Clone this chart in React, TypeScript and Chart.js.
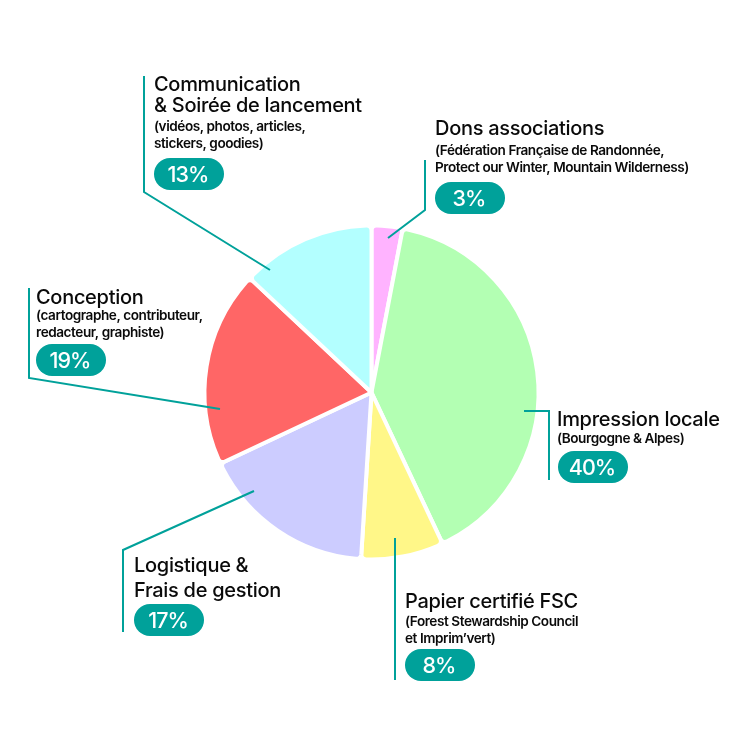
import React, { useEffect, useRef } from 'react';
import { Chart, registerables } from 'chart.js';

Chart.register(...registerables);

const categories = ['Dons associations', 'Impression locale', 'Papier certifié FSC', 'Logistique & Frais de gestion', 'Conception', 'Communication & Soirée de lancement'];
const values = [3, 40, 8, 17, 19, 13];
const sliceColors = ['#FFB3FF', '#B3FFB3', '#FFF788', '#CCCCFF', '#FF6666', '#B3FFFF'];

const titleLines = [
   ['Dons associations'],
   ['Impression locale'],
   ['Papier certifié FSC'],
   ['Logistique &', 'Frais de gestion'],
   ['Conception'],
   ['Communication', '& Soirée de lancement'],
];
const detailLines = [
   ['(Fédération Française de Randonnée,', 'Protect our Winter, Mountain Wilderness)'],
   ['(Bourgogne & Alpes)'],
   ['(Forest Stewardship Council', 'et Imprim’vert)'],
   [],
   ['(cartographe, contributeur,', 'redacteur, graphiste)'],
   ['(vidéos, photos, articles,', 'stickers, goodies)'],
];

// label placement, one entry per slice: text left edge, first title baseline, line gap, first detail baseline, pill top
const labelX = [435, 557, 405, 134, 36, 154];
const titleY = [135, 426, 608, 572, 304, 91];
const titleGap = [21, 21, 21, 24.5, 21, 21];
const detailY = [155, 443, 626, 0, 320, 131];
const pillY = [182, 451, 649, 604, 344, 158];

// leader lines
const leaders = [
   [[425, 160], [425, 210], [388, 238]],
   [[549, 480], [549, 411], [524, 411]],
   [[395, 680], [395, 538]],
   [[123, 632], [123, 550], [254, 491]],
   [[29, 288], [29, 378], [220, 409]],
   [[144, 76], [144, 192], [270, 270]],
];

const TEAL = '#00A19A';
const FONT = 'Inter, "Noto Sans", sans-serif';

const labelsPlugin = {
   id: 'sliceLabels',
   afterDraw(chart: any) {
      const ctx = chart.ctx as CanvasRenderingContext2D;
      ctx.save();

      ctx.strokeStyle = TEAL;
      ctx.lineWidth = 2;
      leaders.forEach((pts) => {
         ctx.beginPath();
         pts.forEach(([x, y], i) => (i === 0 ? ctx.moveTo(x, y) : ctx.lineTo(x, y)));
         ctx.stroke();
      });

      ctx.textBaseline = 'alphabetic';
      values.forEach((v, i) => {
         const x = labelX[i];
         ctx.textAlign = 'left';
         ctx.fillStyle = '#0A0A0A';
         ctx.font = `500 20px ${FONT}`;
         (ctx as any).letterSpacing = '-0.3px';
         titleLines[i].forEach((line, k) => ctx.fillText(line, x, titleY[i] + k * titleGap[i]));

         ctx.font = `600 13.6px ${FONT}`;
         (ctx as any).letterSpacing = '-0.45px';
         detailLines[i].forEach((line, k) => ctx.fillText(line, x, detailY[i] + k * 17));

         const px = i === 1 ? x + 1 : x;
         ctx.fillStyle = TEAL;
         ctx.beginPath();
         ctx.roundRect(px, pillY[i], 70, 32, 16);
         ctx.fill();

         ctx.fillStyle = '#FFFFFF';
         ctx.font = `500 21.5px ${FONT}`;
         (ctx as any).letterSpacing = '-1px';
         ctx.textAlign = 'center';
         ctx.textBaseline = 'middle';
         ctx.fillText(`${v}%`, px + 34, pillY[i] + 18);
         ctx.textBaseline = 'alphabetic';
      });

      ctx.restore();
   },
};

const App = () => {
   const canvasRef = useRef<HTMLCanvasElement | null>(null);

   useEffect(() => {
      if (canvasRef.current === null) return;
      const chart = new Chart(canvasRef.current, {
         type: 'pie',
         data: {
            labels: categories,
            datasets: [
               {
                  data: values,
                  backgroundColor: sliceColors,
                  borderColor: '#FFFFFF',
                  borderWidth: 4,
                  borderRadius: 5,
               },
            ],
         },
         options: {
            responsive: false,
            animation: false,
            devicePixelRatio: 1,
            layout: { padding: { left: 202.5, right: 209.5, top: 223.5, bottom: 188.5 } },
            plugins: { legend: { display: false }, tooltip: { enabled: false } },
         },
         plugins: [labelsPlugin],
      } as any);

      return () => {
         chart.destroy();
      };
   }, []);

   return (
      <div style={{ position: 'fixed', left: 0, top: 0, width: 750, height: 750, background: '#FFFFFF' }}>
         <canvas ref={canvasRef} width={750} height={750} style={{ display: 'block' }} />
      </div>
   );
};

export default App;
